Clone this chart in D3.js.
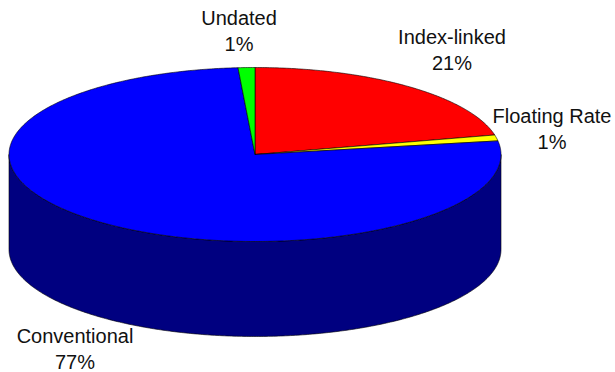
<!DOCTYPE html>
<html>
<head>
<meta charset="utf-8">
<script src="https://cdn.jsdelivr.net/npm/d3@7"></script>
<style>
html,body{margin:0;padding:0;background:#fff}
svg{display:block}
text{font-family:"Liberation Sans",Arial,sans-serif;font-size:20px;fill:#111;text-anchor:middle}
</style>
</head>
<body>
<svg id="chart" width="615" height="372"></svg>
<script>
const categories = ["Index-linked", "Floating Rate", "Conventional", "Undated"];
const shares = [21.4, 1.1, 76.4, 1.1];
const percentLabels = ["21%", "1%", "77%", "1%"];
const topColors = ["#ff0000", "#ffff00", "#0000ff", "#00ff00"];
const sideColors = ["#800000", "#808000", "#000080", "#008000"];
const labelCenters = [[452, 37], [552, 116], [75, 336], [239, 18]];

const width = 615, height = 372;
const cx = 255, cy = 154.5, rx = 246, ry = 87, depth = 95;
const lineGap = 26;

const svg = d3.select("#chart");
const pie = d3.pie().sort(null).value(d => d)(shares);

const px = d3.scaleLinear().domain([-1, 1]).range([cx - rx, cx + rx]);
const py = d3.scaleLinear().domain([-1, 1]).range([cy - ry, cy + ry]);
const pointAt = (a, drop) => [px(Math.sin(a)), py(-Math.cos(a)) + drop];
const rim = (a0, a1, drop) => {
  const n = Math.max(2, Math.ceil((a1 - a0) / 0.01));
  return d3.range(n + 1).map(i => pointAt(a0 + (a1 - a0) * i / n, drop));
};
const line = d3.line();

// side wall: only the front half of the rim is visible
pie.forEach((s, i) => {
  const a0 = Math.max(s.startAngle, Math.PI / 2);
  const a1 = Math.min(s.endAngle, 3 * Math.PI / 2);
  if (a1 <= a0) return;
  const pts = rim(a0, a1, 0).concat(rim(a0, a1, depth).reverse());
  svg.append("path")
    .attr("d", line(pts) + "Z")
    .attr("fill", sideColors[i])
    .attr("stroke", "#000")
    .attr("stroke-width", 0.6);
});

// top face
pie.forEach((s, i) => {
  const pts = [[cx, cy]].concat(rim(s.startAngle, s.endAngle, 0));
  svg.append("path")
    .attr("d", line(pts) + "Z")
    .attr("fill", topColors[i])
    .attr("stroke", "#000")
    .attr("stroke-width", 0.6);
});

// labels
categories.forEach((c, i) => {
  const [x, y] = labelCenters[i];
  svg.append("text").attr("x", x).attr("y", y + 7).text(c);
  svg.append("text").attr("x", x).attr("y", y + lineGap + 7).text(percentLabels[i]);
});
</script>
</body>
</html>
